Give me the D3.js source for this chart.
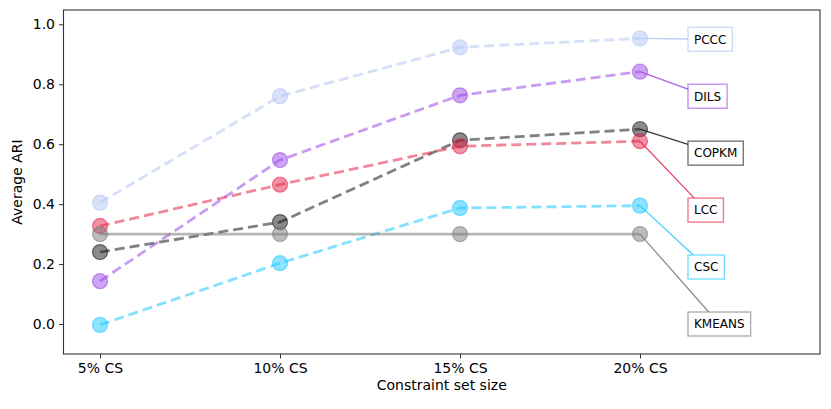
<!DOCTYPE html>
<html><head><meta charset="utf-8">
<script src="https://cdn.jsdelivr.net/npm/d3@7"></script>
<style>body{margin:0;background:#fff}svg{display:block}text{font-family:"DejaVu Sans",sans-serif}</style>
</head><body><svg id="c" width="831" height="409"></svg>
<script>
const categories = ["5% CS","10% CS","15% CS","20% CS"];
const seriesNames = ["PCCC","DILS","COPKM","LCC","CSC","KMEANS"];
const pccc   = [0.405, 0.760, 0.923, 0.953];
const dils   = [0.143, 0.547, 0.763, 0.842];
const copkm  = [0.240, 0.340, 0.613, 0.650];
const lcc    = [0.327, 0.465, 0.593, 0.610];
const csc    = [-0.003, 0.203, 0.387, 0.395];
const kmeans = [0.300, 0.300, 0.300, 0.300];
const yTicks = [0.0, 0.2, 0.4, 0.6, 0.8, 1.0];
const labelY = [0.95, 0.76, 0.57, 0.38, 0.19, 0.0];
const labelX = 3.3;

const colors = {PCCC:"#b3c5f3", DILS:"#9c48e6", COPKM:"#1a1a1a", LCC:"#e4264a", CSC:"#1ec8ff", KMEANS:"#7a7a7a"};
const values = {PCCC:pccc, DILS:dils, COPKM:copkm, LCC:lcc, CSC:csc, KMEANS:kmeans};

const L=63.5, R=820, T=10, B=354;
const svg = d3.select("#c");
const x = d3.scaleLinear().domain([-0.2, 4.0]).range([100 - 0.2*180, 100 + 4.0*180]);
const y = d3.scaleLinear().domain([0, 1]).range([324, 24.3]);

// axes
const yAxis = svg.append("g").attr("transform",`translate(${L},0)`)
  .call(d3.axisLeft(y).tickValues(yTicks).tickFormat(d3.format(".1f")).tickSize(4.5).tickPadding(4));
const xAxis = svg.append("g").attr("transform",`translate(0,${B})`)
  .call(d3.axisBottom(x).tickValues(d3.range(categories.length)).tickFormat(i=>categories[i]).tickSize(4.5).tickPadding(5));
[yAxis,xAxis].forEach(g=>{
  g.select(".domain").remove();
  g.selectAll("text").attr("font-size","14px").attr("fill","#000").attr("font-family","DejaVu Sans");
  g.selectAll("line").attr("stroke","#333").attr("stroke-width",1);
});
svg.append("rect").attr("x",L).attr("y",T).attr("width",R-L).attr("height",B-T)
  .attr("fill","none").attr("stroke","#333").attr("stroke-width",1.1);

svg.append("text").attr("x",(L+R)/2).attr("y",390).attr("text-anchor","middle")
  .attr("font-size","14px").text("Constraint set size");
svg.append("text").attr("transform",`translate(22,${(T+B)/2}) rotate(-90)`).attr("text-anchor","middle")
  .attr("font-size","14px").text("Average ARI");

const line = d3.line().x((d,i)=>x(i)).y(d=>y(d));
const plot = svg.append("g");
seriesNames.forEach(name=>{
  const c = colors[name], v = values[name];
  const dashed = name !== "KMEANS";
  plot.append("path").datum(v).attr("d",line).attr("fill","none")
    .attr("stroke",c).attr("stroke-opacity",0.55).attr("stroke-width",2.8)
    .attr("stroke-dasharray",dashed?"10,5":null);
  plot.selectAll(null).data(v).enter().append("circle")
    .attr("cx",(d,i)=>x(i)).attr("cy",d=>y(d)).attr("r",7.5)
    .attr("fill",c).attr("fill-opacity",0.5).attr("stroke",c).attr("stroke-opacity",0.55).attr("stroke-width",1.3);
});

// annotations
const ann = svg.append("g");
seriesNames.forEach((name,k)=>{
  const c = colors[name], v = values[name];
  const px = x(3), py = y(v[3]);
  const tx = x(labelX), ty = y(labelY[k]);
  const t = ann.append("text").attr("x",tx).attr("y",ty).attr("dy","0.36em")
    .attr("font-size","12px").attr("fill","#000").text(name);
  const bb = t.node().getBBox();
  const padX = 6, h = 24;
  const bx = tx - padX, bw = bb.width + 2*padX, by = ty - h/2;
  const cx = bx + bw/2, cy = ty;
  const dx = cx - px, dy = cy - py;
  let tEnd = (bx - px)/dx;
  let ex = bx, ey = py + dy*tEnd;
  if (ey < by || ey > by+h) {
    const yy = dy>0 ? by : by+h;
    const tt = (yy - py)/dy; ex = px + dx*tt; ey = yy;
  }
  ann.insert("line","text").attr("x1",px).attr("y1",py).attr("x2",ex).attr("y2",ey)
    .attr("stroke",c).attr("stroke-opacity",0.85).attr("stroke-width",1.3);
  ann.insert("rect","text").attr("x",bx).attr("y",by).attr("width",bw).attr("height",h)
    .attr("fill","#fff").attr("stroke",c).attr("stroke-opacity",0.6).attr("stroke-width",1.4);
});
</script></body></html>
